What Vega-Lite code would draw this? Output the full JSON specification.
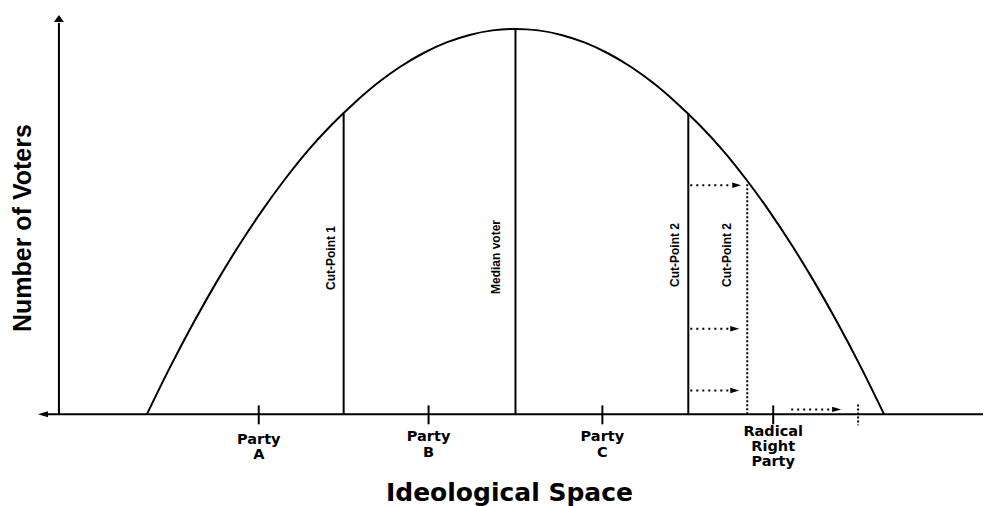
{
  "$schema": "https://vega.github.io/schema/vega-lite/v6.json",
  "width": 984,
  "height": 506,
  "autosize": {"type": "fit", "contains": "padding"},
  "padding": 0,
  "background": "white",
  "config": {"view": {"stroke": null}},
  "datasets": {
    "curve": [
      {"pos": 147, "voters": 0}, {"pos": 170, "voters": 46.9}, {"pos": 193, "voters": 90.7},
      {"pos": 216, "voters": 131.5}, {"pos": 239, "voters": 169.3}, {"pos": 262, "voters": 204.1},
      {"pos": 285, "voters": 235.8}, {"pos": 308, "voters": 264.6}, {"pos": 331.5, "voters": 290.25},
      {"pos": 355, "voters": 312.9}, {"pos": 378, "voters": 332.6}, {"pos": 401, "voters": 349.2},
      {"pos": 424, "voters": 362.8}, {"pos": 447, "voters": 373.4}, {"pos": 470, "voters": 380.95},
      {"pos": 493, "voters": 385.5}, {"pos": 516, "voters": 387}, {"pos": 539, "voters": 385.5},
      {"pos": 562, "voters": 380.95}, {"pos": 585, "voters": 373.4}, {"pos": 608, "voters": 362.8},
      {"pos": 631, "voters": 349.2}, {"pos": 654, "voters": 332.6}, {"pos": 677, "voters": 312.9},
      {"pos": 700.5, "voters": 290.25}, {"pos": 724, "voters": 264.6}, {"pos": 747, "voters": 235.8},
      {"pos": 770, "voters": 204.1}, {"pos": 793, "voters": 169.3}, {"pos": 816, "voters": 131.5},
      {"pos": 839, "voters": 90.7}, {"pos": 862, "voters": 46.9}, {"pos": 885, "voters": 0}
    ],
    "solid": [
      {"pos": 59, "voters": 0, "pos2": 59, "voters2": 393},
      {"pos": 47, "voters": 0, "pos2": 984, "voters2": 0},
      {"pos": 344, "voters": 0, "pos2": 344, "voters2": 302},
      {"pos": 516, "voters": 0, "pos2": 516, "voters2": 387},
      {"pos": 689, "voters": 0, "pos2": 689, "voters2": 302},
      {"pos": 259, "voters": 9, "pos2": 259, "voters2": -10},
      {"pos": 429, "voters": 9, "pos2": 429, "voters2": -10},
      {"pos": 603, "voters": 9, "pos2": 603, "voters2": -10},
      {"pos": 774, "voters": 9, "pos2": 774, "voters2": -10}
    ],
    "dottedV": [
      {"pos": 748, "voters": 0, "pos2": 748, "voters2": 232},
      {"pos": 859, "voters": 10, "pos2": 859, "voters2": -11}
    ],
    "dottedArrows": [
      {"pos": 691, "voters": 230, "pos2": 733, "voters2": 230},
      {"pos": 691, "voters": 86, "pos2": 731, "voters2": 86},
      {"pos": 691, "voters": 24, "pos2": 731, "voters2": 24},
      {"pos": 792, "voters": 5, "pos2": 833, "voters2": 5}
    ],
    "heads": [
      {"pos": 737.5, "voters": 230},
      {"pos": 735.5, "voters": 86},
      {"pos": 735.5, "voters": 24},
      {"pos": 837.5, "voters": 5}
    ],
    "upArrow": [{"pos": 59, "voters": 397.5}],
    "leftArrow": [{"pos": 43, "voters": 0}],
    "parties": [
      {"pos": 259, "voters": -29.5, "label": "Party"},
      {"pos": 259, "voters": -45, "label": "A"},
      {"pos": 429, "voters": -27, "label": "Party"},
      {"pos": 429, "voters": -42.5, "label": "B"},
      {"pos": 603, "voters": -27, "label": "Party"},
      {"pos": 603, "voters": -43, "label": "C"},
      {"pos": 774, "voters": -22, "label": "Radical"},
      {"pos": 774, "voters": -37, "label": "Right"},
      {"pos": 774, "voters": -52, "label": "Party"}
    ],
    "vlabels": [
      {"pos": 331, "voters": 157, "label": "Cut-Point 1"},
      {"pos": 497, "voters": 158, "label": "Median voter"},
      {"pos": 676, "voters": 160, "label": "Cut-Point 2"},
      {"pos": 728, "voters": 160, "label": "Cut-Point 2"}
    ],
    "ytitle": [{"pos": 23.5, "voters": 187, "label": "Number of Voters"}],
    "xtitle": [{"pos": 510, "voters": -87, "label": "Ideological Space"}]
  },
  "layer": [
    {
      "data": {"name": "curve"},
      "mark": {"type": "line", "color": "black", "strokeWidth": 2, "interpolate": "monotone"},
      "encoding": {
        "x": {"field": "pos", "type": "quantitative", "scale": {"domain": [0, 984], "nice": false, "zero": false}, "axis": null},
        "y": {"field": "voters", "type": "quantitative", "scale": {"domain": [-90, 416], "nice": false, "zero": false}, "axis": null}
      }
    },
    {
      "data": {"name": "solid"},
      "mark": {"type": "rule", "color": "black", "strokeWidth": 2},
      "encoding": {
        "x": {"field": "pos", "type": "quantitative"},
        "y": {"field": "voters", "type": "quantitative"},
        "x2": {"field": "pos2"},
        "y2": {"field": "voters2"}
      }
    },
    {
      "data": {"name": "dottedV"},
      "mark": {"type": "rule", "color": "black", "strokeWidth": 2, "strokeDash": [2, 2]},
      "encoding": {
        "x": {"field": "pos", "type": "quantitative"},
        "y": {"field": "voters", "type": "quantitative"},
        "x2": {"field": "pos2"},
        "y2": {"field": "voters2"}
      }
    },
    {
      "data": {"name": "dottedArrows"},
      "mark": {"type": "rule", "color": "black", "strokeWidth": 2, "strokeDash": [2, 4]},
      "encoding": {
        "x": {"field": "pos", "type": "quantitative"},
        "y": {"field": "voters", "type": "quantitative"},
        "x2": {"field": "pos2"},
        "y2": {"field": "voters2"}
      }
    },
    {
      "data": {"name": "heads"},
      "mark": {"type": "point", "shape": "M1,0L-1,-0.6L-1,0.6Z", "size": 81, "filled": true, "color": "black", "opacity": 1, "strokeWidth": 0},
      "encoding": {
        "x": {"field": "pos", "type": "quantitative"},
        "y": {"field": "voters", "type": "quantitative"}
      }
    },
    {
      "data": {"name": "upArrow"},
      "mark": {"type": "point", "shape": "M0,-0.7L-1,0.7L1,0.7Z", "size": 100, "filled": true, "color": "black", "opacity": 1, "strokeWidth": 0},
      "encoding": {
        "x": {"field": "pos", "type": "quantitative"},
        "y": {"field": "voters", "type": "quantitative"}
      }
    },
    {
      "data": {"name": "leftArrow"},
      "mark": {"type": "point", "shape": "M-1,0L1,-0.6L1,0.6Z", "size": 100, "filled": true, "color": "black", "opacity": 1, "strokeWidth": 0},
      "encoding": {
        "x": {"field": "pos", "type": "quantitative"},
        "y": {"field": "voters", "type": "quantitative"}
      }
    },
    {
      "data": {"name": "parties"},
      "mark": {"type": "text", "font": "DejaVu Sans", "fontWeight": "bold", "fontSize": 14.5, "align": "center", "baseline": "alphabetic", "color": "black"},
      "encoding": {
        "x": {"field": "pos", "type": "quantitative"},
        "y": {"field": "voters", "type": "quantitative"},
        "text": {"field": "label"}
      }
    },
    {
      "data": {"name": "vlabels"},
      "mark": {"type": "text", "font": "Liberation Sans", "fontWeight": "bold", "fontSize": 12, "align": "center", "baseline": "middle", "angle": 270, "color": "black"},
      "encoding": {
        "x": {"field": "pos", "type": "quantitative"},
        "y": {"field": "voters", "type": "quantitative"},
        "text": {"field": "label"}
      }
    },
    {
      "data": {"name": "ytitle"},
      "mark": {"type": "text", "font": "Liberation Sans", "fontWeight": "bold", "fontSize": 25, "align": "center", "baseline": "middle", "angle": 270, "color": "black"},
      "encoding": {
        "x": {"field": "pos", "type": "quantitative"},
        "y": {"field": "voters", "type": "quantitative"},
        "text": {"field": "label"}
      }
    },
    {
      "data": {"name": "xtitle"},
      "mark": {"type": "text", "font": "DejaVu Sans", "fontWeight": "bold", "fontSize": 25, "align": "center", "baseline": "alphabetic", "color": "black"},
      "encoding": {
        "x": {"field": "pos", "type": "quantitative"},
        "y": {"field": "voters", "type": "quantitative"},
        "text": {"field": "label"}
      }
    }
  ]
}
